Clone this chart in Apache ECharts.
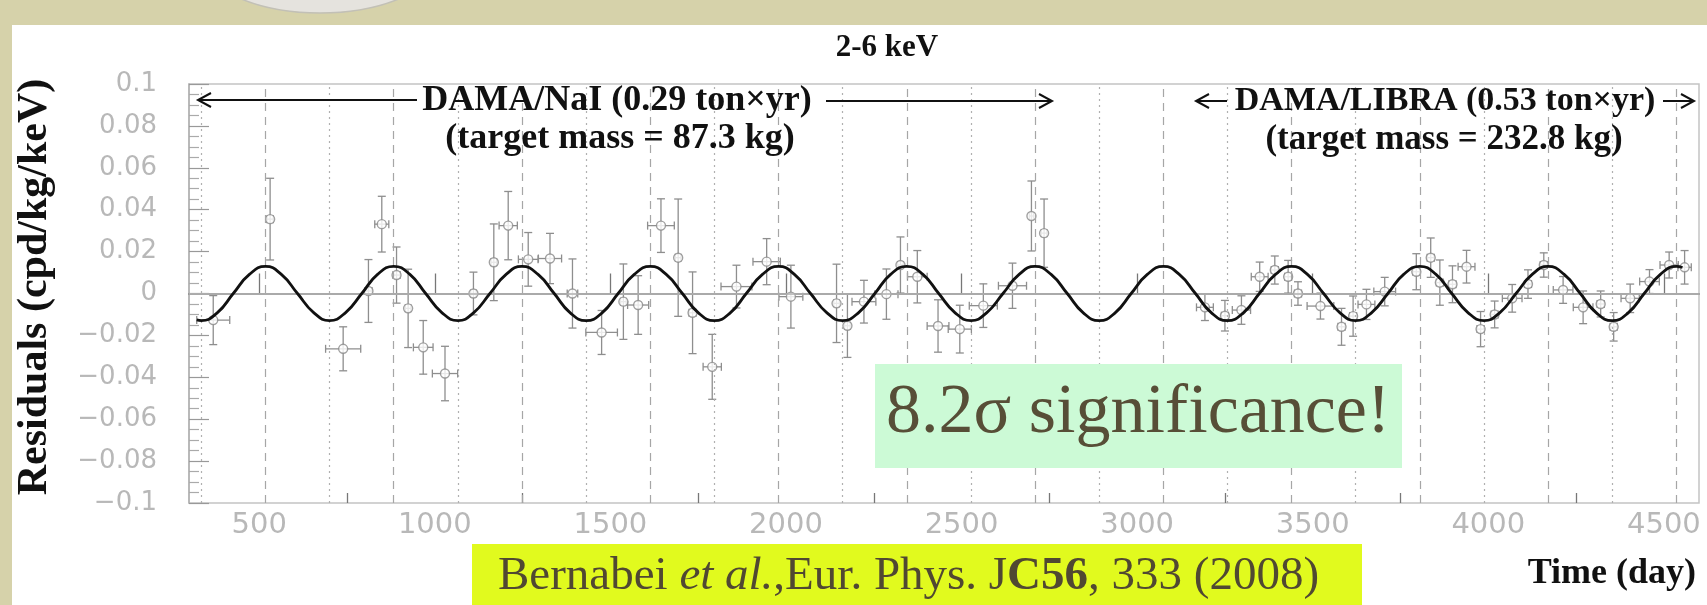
<!DOCTYPE html>
<html>
<head>
<meta charset="utf-8">
<script src="https://cdn.jsdelivr.net/npm/echarts@6/dist/echarts.min.js"></script>
<style>
  html, body { margin: 0; padding: 0; background: #fff; }
  #main { width: 1707px; height: 605px; }
</style>
</head>
<body>
<div id="main"></div>
<script>
// residual points: day, value, half-width in days, half-height in cpd/kg/keV
var days = [369, 531, 739, 811, 849, 891, 924, 967, 1029, 1110, 1168, 1209, 1266, 1328,
  1392, 1475, 1537, 1579, 1644, 1693, 1734, 1790, 1859, 1945, 2014, 2144, 2175, 2222,
  2286, 2326, 2374, 2433, 2495, 2562, 2645, 2699, 2735,
  3193, 3250, 3297, 3349, 3392, 3430, 3458, 3522, 3582, 3615, 3653, 3705, 3795, 3836,
  3862, 3898, 3938, 3978, 4018, 4068, 4113, 4158, 4213, 4270, 4320, 4357, 4404, 4459,
  4515, 4559];
var resid = [-0.0127, 0.0355, -0.0264, 0.0012, 0.0331, 0.0088, -0.0071, -0.0257, -0.0382, 0.0, 0.0149, 0.0324, 0.0163, 0.0167,
  0.0, -0.0186, -0.0039, -0.0055, 0.0324, 0.0171, -0.0092, -0.035, 0.0033, 0.0152, -0.0015, -0.0047, -0.0154, -0.0039,
  -0.0003, 0.0136, 0.008, -0.0155, -0.017, -0.0058, 0.0037, 0.037, 0.0288,
  -0.0066, -0.0106, -0.0079, 0.008, 0.0112, 0.008, 0.0, -0.006, -0.0159, -0.0108, -0.0052, 0.0009, 0.0104, 0.0171,
  0.0052, 0.0044, 0.0128, -0.017, -0.01, -0.0023, 0.0045, 0.0136, 0.0017, -0.0066, -0.005, -0.0159, -0.0023, 0.0057,
  0.0136, 0.0125];
var dayErr = [47, 9, 50, 10, 20, 10, 8, 28, 36, 8, 8, 26, 28, 33,
  15, 45, 8, 30, 38, 8, 10, 26, 44, 39, 34, 8, 8, 34,
  33, 8, 28, 31, 33, 40, 40, 6, 8,
  24, 10, 26, 24, 10, 10, 10, 38, 10, 10, 24, 31, 10, 10,
  10, 10, 24, 10, 10, 28, 10, 10, 28, 28, 10, 10, 26, 28,
  26, 19];
var residErr = [0.0117, 0.0195, 0.0105, 0.015, 0.0133, 0.0134, 0.0187, 0.0128, 0.013, 0.0102, 0.0183, 0.0163, 0.0128, 0.012,
  0.0165, 0.0105, 0.018, 0.014, 0.0128, 0.028, 0.0195, 0.0155, 0.0102, 0.011, 0.015, 0.0187, 0.0151, 0.0102,
  0.012, 0.0134, 0.0125, 0.0125, 0.0114, 0.0104, 0.0108, 0.0167, 0.0163,
  0.0063, 0.0073, 0.0068, 0.007, 0.0067, 0.0078, 0.0056, 0.0062, 0.0088, 0.0096, 0.0072, 0.0068, 0.0086, 0.0094,
  0.0108, 0.0088, 0.0078, 0.0084, 0.0064, 0.0066, 0.0068, 0.0058, 0.0064, 0.0078, 0.0062, 0.0068, 0.0068, 0.0057,
  0.0062, 0.008];

// fitted modulation curve, every eighth of a period
var fitDays = [322,
  335, 381, 426, 472, 518, 563, 609, 655,
  700, 746, 792, 837, 883, 929, 974, 1020,
  1066, 1111, 1157, 1203, 1248, 1294, 1340, 1385,
  1431, 1477, 1522, 1568, 1614, 1659, 1705, 1750,
  1796, 1842, 1887, 1933, 1979, 2024, 2070, 2116,
  2161, 2207, 2253, 2298, 2344, 2390, 2435, 2481,
  2527, 2572, 2618, 2664, 2709, 2755, 2801, 2846,
  2892, 2938, 2983, 3029, 3075, 3120, 3166, 3211,
  3257, 3303, 3348, 3394, 3440, 3485, 3531, 3577,
  3622, 3668, 3714, 3759, 3805, 3851, 3896, 3942,
  3988, 4033, 4079, 4125, 4170, 4216, 4262, 4307,
  4353, 4399, 4444, 4490, 4536,
  4553];
var fitVals = [-0.0126,
  -0.0129, -0.0091, 0, 0.0091, 0.0129, 0.0091, 0, -0.0091,
  -0.0129, -0.0091, 0, 0.0091, 0.0129, 0.0091, 0, -0.0091,
  -0.0129, -0.0091, 0, 0.0091, 0.0129, 0.0091, 0, -0.0091,
  -0.0129, -0.0091, 0, 0.0091, 0.0129, 0.0091, 0, -0.0091,
  -0.0129, -0.0091, 0, 0.0091, 0.0129, 0.0091, 0, -0.0091,
  -0.0129, -0.0091, 0, 0.0091, 0.0129, 0.0091, 0, -0.0091,
  -0.0129, -0.0091, 0, 0.0091, 0.0129, 0.0091, 0, -0.0091,
  -0.0129, -0.0091, 0, 0.0091, 0.0129, 0.0091, 0, -0.0091,
  -0.0129, -0.0091, 0, 0.0091, 0.0129, 0.0091, 0, -0.0091,
  -0.0129, -0.0091, 0, 0.0091, 0.0129, 0.0091, 0, -0.0091,
  -0.0129, -0.0091, 0, 0.0091, 0.0129, 0.0091, 0, -0.0091,
  -0.0129, -0.0091, 0, 0.0091, 0.0129,
  0.0124];

// vertical guide lines: dashed at the maxima (2 June), dotted at the minima
var peakDays = [518, 883, 1248, 1614, 1979, 2344, 2709, 3075, 3440, 3805, 4170, 4536];
var troughDays = [335, 700, 1066, 1431, 1796, 2161, 2527, 2892, 3257, 3622, 3988, 4353];

var xMajor = [500, 1000, 1500, 2000, 2500, 3000, 3500, 4000, 4500];
var xMinor = [750, 1250, 1750, 2250, 2750, 3250, 3750, 4250];

var chart = echarts.init(document.getElementById('main'));

var points = [];
for (var i = 0; i < days.length; i++) {
  points.push([days[i], resid[i], dayErr[i], residErr[i]]);
}
var fit = [];
for (var j = 0; j < fitDays.length; j++) {
  fit.push([fitDays[j], fitVals[j]]);
}
var guides = [{ yAxis: 0, lineStyle: { type: 'solid', color: '#b4b4b4', width: 1.5 } }];
peakDays.forEach(function (d) {
  guides.push({ xAxis: d, lineStyle: { type: [8, 6], color: '#a6a6a6', width: 1.2 } });
});
troughDays.forEach(function (d) {
  guides.push({ xAxis: d, lineStyle: { type: [2, 4], color: '#b0b0b0', width: 1.2 } });
});

function errorBars(params, api) {
  var x = api.value(0), y = api.value(1), ex = api.value(2), ey = api.value(3);
  var c = api.coord([x, y]);
  var t = api.coord([x, y + ey])[1];
  var b = api.coord([x, y - ey])[1];
  var l = api.coord([x - ex, y])[0];
  var r = api.coord([x + ex, y])[0];
  var cap = 4;
  var st = { stroke: '#8e8e8e', lineWidth: 1.3 };
  return {
    type: 'group',
    children: [
      { type: 'line', shape: { x1: c[0], y1: t, x2: c[0], y2: b }, style: st },
      { type: 'line', shape: { x1: c[0] - cap, y1: t, x2: c[0] + cap, y2: t }, style: st },
      { type: 'line', shape: { x1: c[0] - cap, y1: b, x2: c[0] + cap, y2: b }, style: st },
      { type: 'line', shape: { x1: l, y1: c[1], x2: r, y2: c[1] }, style: st },
      { type: 'line', shape: { x1: l, y1: c[1] - cap, x2: l, y2: c[1] + cap }, style: st },
      { type: 'line', shape: { x1: r, y1: c[1] - cap, x2: r, y2: c[1] + cap }, style: st }
    ]
  };
}

function arrowHead(x, y, dir) {
  return {
    type: 'polyline', z: 20,
    shape: { points: [[x - dir * 13, y - 7], [x, y], [x - dir * 13, y + 7]] },
    style: { stroke: '#111', lineWidth: 2, fill: null }
  };
}
function hLine(x1, x2, y) {
  return { type: 'line', z: 20, shape: { x1: x1, y1: y, x2: x2, y2: y }, style: { stroke: '#111', lineWidth: 2 } };
}

var serif = '"Liberation Serif", "Times New Roman", serif';

option = {
  backgroundColor: '#ffffff',
  animation: false,
  grid: {
    left: 189, top: 84, width: 1510, height: 419,
    show: true, backgroundColor: '#fff', borderColor: '#c4c4c4', borderWidth: 1.5
  },
  xAxis: [{
    type: 'value', min: 300, max: 4600,
    axisLine: { show: true, lineStyle: { color: '#666', width: 1.5 } },
    axisTick: { show: true, inside: true, length: 20, customValues: xMajor, lineStyle: { color: '#777', width: 1.3 } },
    axisLabel: {
      customValues: xMajor, color: '#b8b8b8', fontSize: 29, fontFamily: '"DejaVu Sans", sans-serif', margin: 8,
      formatter: function (v) { return String(v); }
    },
    splitLine: { show: false }
  }, {
    type: 'value', min: 300, max: 4600, position: 'bottom',
    axisLine: { show: false },
    axisTick: { show: true, inside: true, length: 10, customValues: xMinor, lineStyle: { color: '#777', width: 1.3 } },
    axisLabel: { show: false },
    splitLine: { show: false }
  }],
  yAxis: {
    type: 'value', min: -0.1, max: 0.1, interval: 0.02,
    axisLine: { show: true, lineStyle: { color: '#b0b0b0', width: 1.5 } },
    axisTick: { show: true, inside: true, length: 20, lineStyle: { color: '#999', width: 1.2 } },
    minorTick: { show: true, splitNumber: 4, length: 10, lineStyle: { color: '#aaa', width: 1.2 } },
    axisLabel: {
      color: '#b8b8b8', fontSize: 26, fontFamily: '"DejaVu Sans", sans-serif', margin: 32,
      formatter: function (v) {
        var s = String(parseFloat(Math.abs(v).toFixed(3)));
        return v < -1e-9 ? '\u2212' + s : s;
      }
    },
    splitLine: { show: false }
  },
  series: [{
    type: 'line', data: [], silent: true, z: 1,
    markLine: { silent: true, symbol: 'none', label: { show: false }, data: guides, animation: false }
  }, {
    type: 'custom', renderItem: errorBars, data: points, z: 3, silent: true,
    encode: { x: 0, y: 1 }
  }, {
    type: 'scatter', data: points, z: 4, symbol: 'circle', symbolSize: 9,
    itemStyle: { color: '#fff', borderColor: '#8a8a8a', borderWidth: 1.4 }
  }, {
    type: 'line', data: fit, smooth: 0.5, showSymbol: false, z: 5, silent: true,
    lineStyle: { color: '#111', width: 2.8 }
  }],
  graphic: [
    { type: 'rect', z: 0, shape: { x: 0, y: 0, width: 1707, height: 25 }, style: { fill: '#d6d2aa' } },
    { type: 'rect', z: 0, shape: { x: 0, y: 0, width: 12, height: 605 }, style: { fill: '#d6d2aa' } },
    { type: 'ellipse', z: 1, shape: { cx: 320, cy: -50, rx: 125, ry: 63 }, style: { fill: '#e5e3de', stroke: '#c2c0b6', lineWidth: 1.5 } },
    { type: 'text', z: 20, x: 887, y: 48, style: { text: '2-6 keV', font: 'bold 31px ' + serif, fill: '#111', align: 'center', verticalAlign: 'middle' } },
    { type: 'text', z: 20, x: 35, y: 287, rotation: Math.PI / 2,
      style: { text: 'Residuals (cpd/kg/keV)', font: 'bold 42px ' + serif, fill: '#111', align: 'center', verticalAlign: 'middle' } },
    { type: 'text', z: 20, x: 1696, y: 574, style: { text: 'Time (day)', font: 'bold 36px ' + serif, fill: '#111', align: 'right', verticalAlign: 'middle' } },
    hLine(198, 417, 100), arrowHead(198, 100, -1),
    hLine(826, 1052, 101), arrowHead(1052, 101, 1),
    { type: 'text', z: 20, x: 617, y: 101, style: { text: 'DAMA/NaI (0.29 ton\u00d7yr)', font: 'bold 36px ' + serif, fill: '#111', align: 'center', verticalAlign: 'middle' } },
    { type: 'text', z: 20, x: 620, y: 139, style: { text: '(target mass = 87.3 kg)', font: 'bold 36px ' + serif, fill: '#111', align: 'center', verticalAlign: 'middle' } },
    hLine(1196, 1227, 101), arrowHead(1196, 101, -1),
    hLine(1663, 1694, 101), arrowHead(1694, 101, 1),
    { type: 'text', z: 20, x: 1445, y: 101, style: { text: 'DAMA/LIBRA (0.53 ton\u00d7yr)', font: 'bold 34px ' + serif, fill: '#111', align: 'center', verticalAlign: 'middle' } },
    { type: 'text', z: 20, x: 1444, y: 140, style: { text: '(target mass = 232.8 kg)', font: 'bold 35px ' + serif, fill: '#111', align: 'center', verticalAlign: 'middle' } },
    { type: 'rect', z: 30, shape: { x: 875, y: 364, width: 527, height: 104 }, style: { fill: '#ccfad6' } },
    { type: 'text', z: 31, x: 886, y: 414, style: { text: '8.2\u03c3 significance!', font: '70px ' + serif, fill: '#574e37', align: 'left', verticalAlign: 'middle' } },
    { type: 'rect', z: 30, shape: { x: 472, y: 544, width: 890, height: 61 }, style: { fill: '#e1fa1e' } },
    { type: 'text', z: 31, x: 498, y: 577, style: {
        text: '{n|Bernabei }{i|et al.}{n|,Eur. Phys. J}{b|C56}{n|, 333 (2008)}',
        align: 'left', verticalAlign: 'middle',
        rich: {
          n: { font: '47px ' + serif, fill: '#504832' },
          i: { font: 'italic 47px ' + serif, fill: '#504832' },
          b: { font: 'bold 47px ' + serif, fill: '#504832' }
        }
      } }
  ]
};
chart.setOption(option);
</script>
</body>
</html>
